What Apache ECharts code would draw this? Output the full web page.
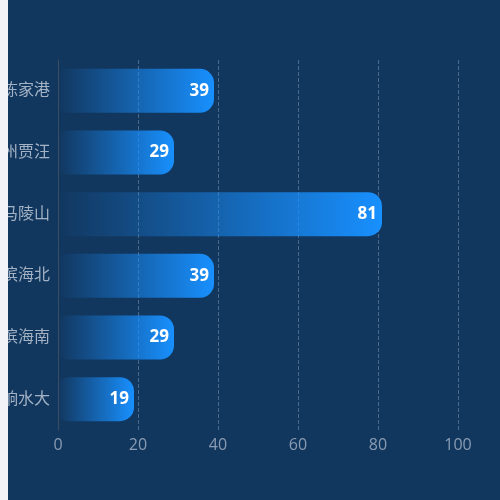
<!DOCTYPE html>
<html>
<head>
<meta charset="utf-8">
<script src="https://cdn.jsdelivr.net/npm/echarts@6/dist/echarts.min.js"></script>
<style>
    html, body { margin: 0; padding: 0; background: #f1f3f8; }
    #bar { position: absolute; left: 8px; top: 0; width: 492px; height: 500px; }
</style>
</head>
<body>
<div id="bar"></div>
<script>
var bar = echarts.init(document.getElementById('bar'));

var station_names = ['陈家港', '州贾汪', '马陵山', '滨海北', '滨海南', '响水大']
var station_values = [39, 29, 81, 39, 29, 19]
var x_ticks = [0, 20, 40, 60, 80, 100]

var bar_option = {
    backgroundColor: '#12375f',
    textStyle: {
        fontFamily: '"Open Sans", "Noto Sans CJK SC"'
    },
    grid: {
        left: 50,
        right: 42,
        top: 60,
        bottom: 70,
        containLabel: false,
        outerBoundsMode: 'none'
    },
    xAxis: {
        type: 'value',
        min: x_ticks[0],
        max: x_ticks[x_ticks.length - 1],
        interval: 20,
        axisLine: { show: false },
        axisTick: { show: false },
        axisLabel: {
            color: '#8a9cb3',
            fontSize: 16,
            margin: 7
        },
        splitLine: {
            show: true,
            lineStyle: {
                color: 'rgba(255,255,255,0.25)',
                type: 'dashed'
            }
        }
    },
    yAxis: {
        type: 'category',
        inverse: true,
        data: station_names,
        axisLine: {
            show: true,
            lineStyle: { color: '#3a4c60' }
        },
        axisTick: { show: false },
        axisLabel: {
            color: '#a3b2c4',
            fontSize: 16,
            margin: 8
        }
    },
    series: [{
        type: 'bar',
        data: station_values,
        barWidth: 44,
        itemStyle: {
            borderRadius: [10, 14, 14, 10],
            color: new echarts.graphic.LinearGradient(0, 0, 1, 0, [
                { offset: 0, color: 'rgba(24,144,255,0)' },
                { offset: 1, color: 'rgba(24,144,255,1)' }
            ])
        },
        label: {
            show: true,
            position: 'insideRight',
            color: '#fff',
            fontSize: 17,
            fontWeight: 'bold'
        }
    }]
};

bar.setOption(bar_option)
</script>
</body>
</html>
